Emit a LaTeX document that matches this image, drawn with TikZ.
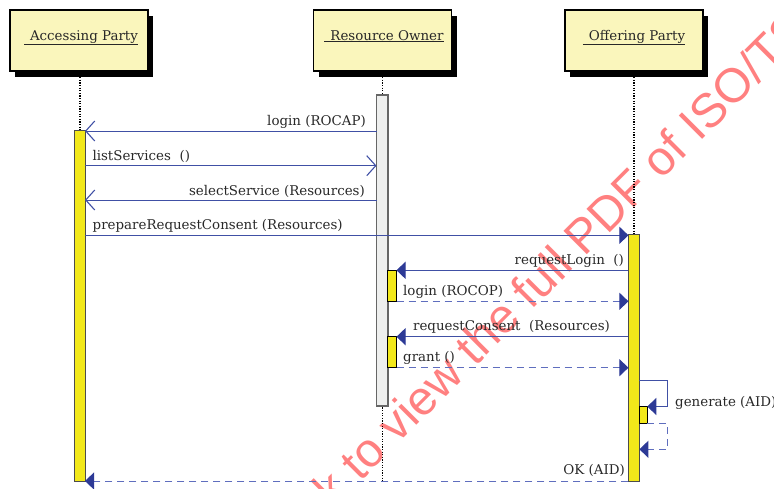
\documentclass[tikz,border=0pt]{standalone}
\usepackage{fontspec}
\setmainfont{DejaVu Serif}
\newfontfamily\wmfont{Liberation Sans}
\usetikzlibrary{arrows.meta,calc,shadows}

\definecolor{msgline}{RGB}{64,80,165}
\definecolor{replyline}{RGB}{95,110,190}
\definecolor{tipblue}{RGB}{45,58,150}
\definecolor{headfill}{RGB}{250,246,188}
\definecolor{actyellow}{RGB}{242,232,26}
\definecolor{actgrey}{RGB}{238,239,238}
\definecolor{wmred}{RGB}{255,128,128}
\definecolor{txt}{RGB}{40,40,40}

\begin{document}
\begin{tikzpicture}[x=1pt,y=-1pt,
  font=\fontsize{13.4}{16}\selectfont,
  headbox/.style={draw=black, line width=1.2pt, fill=headfill,
    minimum width=138pt, minimum height=61pt, inner sep=0pt, outer sep=0pt,
    drop shadow={shadow xshift=5pt, shadow yshift=-6pt, fill=black, opacity=1}},
  headtext/.style={anchor=base, inner sep=0pt, text=txt},
  lifeline/.style={line width=1.2pt, dash pattern=on 1.2pt off 1.4pt},
  actbox/.style={draw=black!70, line width=0.9pt, fill=actyellow,
    inner sep=0pt, outer sep=0pt},
  ownerbox/.style={actbox, draw=black!60, line width=1.2pt, fill=actgrey},
  subact/.style={actbox, draw=black, line width=1pt},
  msgopen/.style={draw=msgline, line width=1pt,
    -{Straight Barb[length=9pt, width=20pt, line width=1.1pt]}},
  msgfill/.style={draw=msgline, line width=1pt,
    -{Triangle[length=9pt, width=17pt, color=tipblue]}},
  msgreply/.style={msgfill, draw=replyline, dash pattern=on 7pt off 5pt},
  lbl/.style={inner sep=0pt, text=txt},
  wm/.style={inner sep=0pt, text=wmred, font=\wmfont\fontsize{48}{50}\selectfont}
]
\useasboundingbox (0,0) rectangle (774,488);

% watermark, kept behind the diagram
\begin{scope}
  \clip (0,0) rectangle (774,488);
  \node[wm, rotate=45, anchor=base west] (wmk) at (277,565.4)
    {Click to view the full PDF of ISO/TS};
\end{scope}

% message levels
\coordinate (m1) at (0,131);
\coordinate (m2) at (0,165.7);
\coordinate (m3) at (0,200);
\coordinate (m4) at (0,235.3);
\coordinate (m5) at (0,270.3);
\coordinate (m6) at (0,301.3);
\coordinate (m7) at (0,336.7);
\coordinate (m8) at (0,367.7);
\coordinate (m9) at (0,380);
\coordinate (m10) at (0,449.3);
\coordinate (m11) at (0,481);
\coordinate (selfx) at (667.7,0);

% lifelines
\draw[lifeline] (80,72) -- (80,131);
\draw[lifeline] (382.5,72) -- (382.5,481);
\draw[lifeline] (634,72) -- (634,236);

% participants
\node[headbox] (apbox) at (79,40.5) {};
\node[headbox] (robox) at (382.5,40.5) {};
\node[headbox] (opbox) at (634,40.5) {};
\node[headtext] (aptxt) at (81,40) {\underline{\hspace{6pt}Accessing Party}};
\node[headtext] (rotxt) at (384,40) {\underline{\hspace{6pt}Resource Owner}};
\node[headtext] (optxt) at (634,40) {\underline{\hspace{6pt}Offering Party}};

% activations
\node[actbox, minimum width=11pt, minimum height=351pt] (ap) at (79.5,306) {};
\node[ownerbox, minimum width=11.5pt, minimum height=311pt] (ro) at (382.25,250.5) {};
\node[actbox, minimum width=11pt, minimum height=247pt] (op) at (633.9,358) {};
\node[subact, minimum width=9pt, minimum height=31.5pt] (ro1) at (392,285.75) {};
\node[subact, minimum width=9pt, minimum height=31pt] (ro2) at (392,352) {};
\node[subact, minimum width=8pt, minimum height=17pt] (opself) at (643.3,415) {};

% messages
\draw[msgopen] (ro.west |- m1) -- (ap.east |- m1);
\node[lbl, anchor=base east] (l1) at ($(ro.west |- m1)+(-10.5,-6)$) {login (ROCAP)};

\draw[msgopen] (ap.east |- m2) -- (ro.west |- m2);
\node[lbl, anchor=base west] (l2) at ($(ap.east |- m2)+(7.3,-5.7)$) {listServices\ \ ()};

\draw[msgopen] (ro.west |- m3) -- (ap.east |- m3);
\node[lbl, anchor=base east] (l3) at ($(ro.west |- m3)+(-11.5,-5)$) {selectService (Resources)};

\draw[msgfill] (ap.east |- m4) -- (op.west |- m4);
\node[lbl, anchor=base west] (l4) at ($(ap.east |- m4)+(7.5,-6.3)$) {prepareRequestConsent (Resources)};

\draw[msgfill] (op.west |- m5) -- (ro1.east |- m5);
\node[lbl, anchor=base east] (l5) at ($(op.west |- m5)+(-4.3,-6.3)$) {requestLogin\ \ ()};

\draw[msgreply] (ro1.east |- m6) -- (op.west |- m6);
\node[lbl, anchor=base west] (l6) at ($(ro1.east |- m6)+(6.5,-5.8)$) {login (ROCOP)};

\draw[msgfill] (op.west |- m7) -- (ro2.east |- m7);
\node[lbl, anchor=base east] (l7) at ($(op.west |- m7)+(-18.3,-6.7)$) {requestConsent\ \ (Resources)};

\draw[msgreply] (ro2.east |- m8) -- (op.west |- m8);
\node[lbl, anchor=base west] (l8) at ($(ro2.east |- m8)+(6.5,-6.7)$) {grant ()};

% self call on the offering party
\draw[msgfill] (op.east |- m9) -- (selfx |- m9) -- (selfx |- opself.north) -- (opself.north east);
\node[lbl, anchor=base west] (l9) at (675,406.5) {generate (AID)};
\draw[msgreply] (opself.south east) -- (selfx |- opself.south) -- (selfx |- m10) -- (op.east |- m10);

% final answer
\draw[msgreply] (op.west |- m11) -- (ap.east |- m11);
\node[lbl, anchor=base east] (l10) at ($(op.west |- m11)+(-3.3,-6.5)$) {OK (AID)};
\end{tikzpicture}
\end{document}
